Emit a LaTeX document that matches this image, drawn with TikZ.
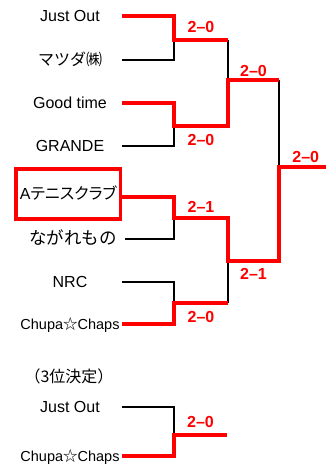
\documentclass[tikz,border=0pt]{standalone}
\usepackage{fontspec}
\setmainfont{Liberation Sans}
\newfontfamily\jp{Noto Sans CJK JP}
\newfontfamily\jpp[RawFeature=+palt]{Noto Sans CJK JP}
\usetikzlibrary{positioning}

\begin{document}
\begin{tikzpicture}[x=1pt, y=-1pt,
    team/.style={font=\fontsize{16}{19}\selectfont, inner sep=0pt,
      minimum width=104pt, text height=13pt, text depth=2pt},
    small/.style={team, font=\fontsize{14.5}{17}\selectfont},
    lose/.style={line width=1.5pt, black},
    win/.style={line width=4pt, red},
    score/.style={font=\fontsize{16}{19}\selectfont\bfseries, text=red,
      inner sep=0pt, text height=11.5pt, text depth=0pt}]

    \useasboundingbox (0,0) rectangle (326,464);

    % teams
    \node[team] (t1) at (70,16) {Just Out};
    \node[team] (t2) at (70,60) {\jp マツダ㈱};
    \node[team] (t3) at (70,103) {Good time};
    \node[team] (t4) at (70,146) {GRANDE};
    \node[team, draw=red, line width=3.5pt, minimum width=104.5pt,
      minimum height=50pt] (t5) at (68.25,194) {A\jpp テニスクラブ};
    \node[team, font=\fontsize{17.5}{20}\selectfont] (t6) at (73,239) {\jp ながれもの};
    \node[team] (t7) at (70,282) {NRC};
    \node[small] (t8) at (70,324) {Chupa{\jp ☆}Chaps};

    % match points
    \coordinate (m1) at (174,40);
    \coordinate (m2) at (174,126);
    \coordinate (m3) at (174,218);
    \coordinate (m4) at (174,303);
    \coordinate (w1) at (228,40);
    \coordinate (w2) at (228,126);
    \coordinate (w3) at (228,218);
    \coordinate (w4) at (228,303);
    \coordinate (r1) at (228,80);
    \coordinate (r2) at (228,261);
    \coordinate (f1) at (279,80);
    \coordinate (f2) at (279,261);
    \coordinate (fin) at (279,167);
    \coordinate (champ) at (326,167);

    % losers
    \draw[lose] (t2.east) -| (m1);
    \draw[lose] (t4.east) -| (m2);
    \draw[lose] (t6.east) -| (m3);
    \draw[lose] (t7.east) -| (m4);
    \draw[lose] (w1) -- (r1);
    \draw[lose] (w4) -- (r2);
    \draw[lose] (f1) -- (fin);

    % winners
    \draw[win] (t1.east) -| (m1) -- (w1)
      node[midway, above=6pt, score] (sc1) {2–0};
    \draw[win] (t3.east) -| (m2) -- (w2)
      node[midway, below=6pt, score] (sc2) {2–0}
      -- (r1) -- (f1) node[midway, above=2pt, score] (sc5) {2–0};
    \draw[win] ([yshift=-3pt]t5.east) -| (m3) -- (w3)
      node[midway, above=4pt, score] (sc3) {2–1}
      -- (r2) -- (f2) node[midway, below=5pt, score] (sc6) {2–1}
      -- (fin) -- (champ) node[pos=0.57, above=3pt, score] (sc7) {2–0};
    \draw[win] (t8.east) -| (m4) -- (w4)
      node[midway, below=6pt, score] (sc4) {2–0};

    % 3rd place
    \node[team] (title) at (69,377) {\jp （3位決定）};
    \node[team] (t9) at (70,407) {Just Out};
    \node[small] (t10) at (70,456) {Chupa{\jp ☆}Chaps};
    \coordinate (m5) at (174,435);
    \coordinate (w5) at (227,435);
    \draw[lose] (t9.east) -| (m5);
    \draw[win] (t10.east) -| (m5) -- (w5)
      node[midway, above=6pt, score] (sc8) {2–0};

\end{tikzpicture}
\end{document}
